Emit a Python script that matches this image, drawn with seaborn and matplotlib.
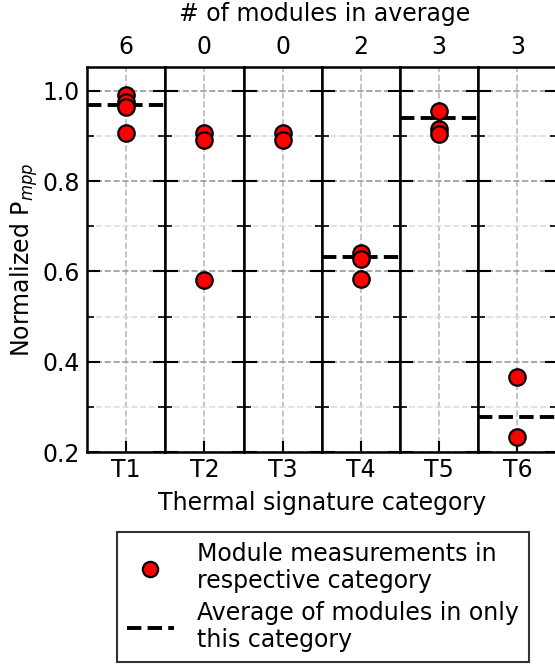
import matplotlib
matplotlib.use("Agg")
import matplotlib.pyplot as plt
import seaborn as sns
import pandas as pd
from matplotlib.lines import Line2D
from matplotlib.ticker import MultipleLocator

sns.set_style("white")
plt.rcParams["font.family"] = ["DejaVu Sans"]
plt.rcParams["font.size"] = 17
plt.rcParams["text.color"] = "black"
plt.rcParams["axes.labelcolor"] = "black"
plt.rcParams["xtick.color"] = "black"
plt.rcParams["ytick.color"] = "black"

categories = ["T1", "T2", "T3", "T4", "T5", "T6"]
n_in_average = [6, 0, 0, 2, 3, 3]
measurements = [
    [0.990, 0.975, 0.964, 0.906],
    [0.907, 0.892, 0.582],
    [0.907, 0.891],
    [0.642, 0.627, 0.584],
    [0.955, 0.915, 0.905],
    [0.367, 0.234],
]
averages = [0.969, None, None, 0.633, 0.939, 0.278]

fig, axes = plt.subplots(1, 6, figsize=(5.55, 6.64), dpi=100, sharey=True)
fig.subplots_adjust(left=87 / 555, right=556.5 / 555, bottom=1 - 452 / 664,
                    top=1 - 67 / 664, wspace=0)

for i, ax in enumerate(axes):
    df = pd.DataFrame({"x": [0] * len(measurements[i]), "y": measurements[i]})
    sns.scatterplot(data=df, x="x", y="y", ax=ax, color="red", edgecolor="black",
                    s=140, linewidth=1.6, zorder=4, legend=False)
    if averages[i] is not None:
        ax.axhline(averages[i], color="black", ls="--", lw=2.8, zorder=3)
    ax.set_xlim(-0.5, 0.5)
    ax.set_ylim(0.2, 1.053)
    ax.set_xticks([0])
    ax.set_xticklabels([categories[i]])
    ax.set_xlabel("")
    ax.set_ylabel("")
    ax.yaxis.set_major_locator(MultipleLocator(0.2))
    ax.yaxis.set_minor_locator(MultipleLocator(0.1))
    ax.yaxis.grid(True, which="major", ls="--", color="#999999", lw=1.2)
    ax.yaxis.grid(True, which="minor", ls="--", color="#dddddd", lw=1.2)
    ax.xaxis.grid(True, which="major", ls="--", color="#bbbbbb", lw=1.2)
    ax.tick_params(axis="y", which="major", direction="in", left=True, right=True,
                   length=9, width=1.5, pad=5)
    ax.tick_params(axis="y", which="minor", direction="in", left=True, right=True,
                   length=5, width=1.2)
    ax.tick_params(axis="x", which="major", direction="in", bottom=True, top=False,
                   length=8, width=1.5, pad=4)
    for sp in ax.spines.values():
        sp.set_linewidth(1.8)
        sp.set_color("black")
    top = ax.secondary_xaxis("top")
    top.set_xticks([0])
    top.set_xticklabels([str(n_in_average[i])])
    top.tick_params(length=0, pad=6)
    top.spines["top"].set_visible(False)

axes[0].set_ylabel("Normalized P$_{mpp}$", labelpad=2)

fig.text(0.585, 1 - 14 / 664, "# of modules in average", ha="center", va="center")
fig.text(0.58, 1 - 503 / 664, "Thermal signature category", ha="center", va="center")

handles = [
    Line2D([], [], ls="none", marker="o", markersize=11, markerfacecolor="red",
           markeredgecolor="black", markeredgewidth=1.6),
    Line2D([], [], ls="--", color="black", lw=2.8),
]
labels = ["Module measurements in\nrespective category",
          "Average of modules in only\nthis category"]
leg = fig.legend(handles, labels, loc="center", bbox_to_anchor=(323 / 555, 1 - 597 / 664),
                 frameon=True, fancybox=False, edgecolor="#333333", framealpha=1,
                 handlelength=2.0, labelspacing=0.3, borderpad=0.4, borderaxespad=0,
                 handletextpad=1.0)
leg.get_frame().set_linewidth(1.5)

fig.savefig("out.png", dpi=100)
